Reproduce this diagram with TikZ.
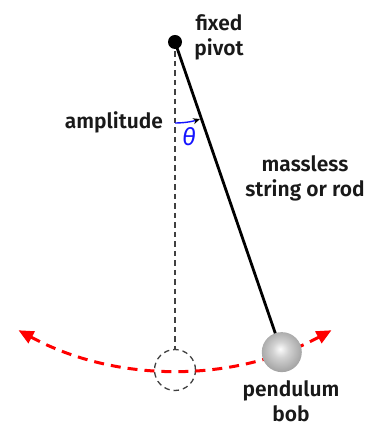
\documentclass[tikz,border=0pt]{standalone}
\usepackage{fontspec}
\setmainfont{Fira Sans SemiBold}
\newfontfamily\greekit{Fira Sans Italic}
\usetikzlibrary{arrows.meta,calc}
\pgfdeclareradialshading{bobshade}{\pgfpoint{-2bp}{4bp}}{color(0bp)=(white!97!gray); color(10bp)=(gray!35); color(30bp)=(gray!80); color(50bp)=(gray!45!black)}
\definecolor{arcred}{RGB}{255,0,0}
\definecolor{ampblue}{RGB}{20,20,255}
\tikzset{
  lbl/.style={font=\fontsize{21}{25.5}\selectfont, align=center, text=black!90, inner sep=0pt},
  guide/.style={draw=black!75, line width=1.3pt, dash pattern=on 5.5pt off 4pt},
  rod/.style={line width=2.8pt, black},
  swing/.style={draw=arcred, line width=3pt, dash pattern=on 10pt off 7pt,
    {Triangle[length=15pt,width=13pt]}-{Triangle[length=15pt,width=13pt]}},
  amp/.style={draw=ampblue, line width=1.4pt, -{Stealth[length=7pt,width=6pt,black]}}
}
\begin{document}
\begin{tikzpicture}[x=1pt,y=1pt]
  \useasboundingbox (0,0) rectangle (367,428);
  \coordinate (pv) at (175,386);
  \coordinate (rest) at ($(pv)+(270:328)$);
  \coordinate (bobc) at ($(pv)+(289:328)$);
  % equilibrium circle and vertical guide
  \node[guide, circle, minimum size=41pt, inner sep=0pt] (restbob) at (rest) {};
  \draw[guide] (pv) -- (restbob.north);
  % swing arc
  \coordinate (arcstart) at ($(pv)+(241.5:328)$);
  \draw[swing] (arcstart) arc[start angle=241.5, end angle=298.5, radius=328pt];
  % amplitude arrow
  \coordinate (ampstart) at ($(pv)+(270:81)$);
  \draw[amp] (ampstart) arc[start angle=270, end angle=288, radius=81pt];
  \node[text=ampblue, font=\greekit\fontsize{24}{24}\selectfont, inner sep=0pt] (theta) at (189,291) {θ};
  % rod
  \node[circle, fill=black, minimum size=14pt, inner sep=0pt] (pivot) at (pv) {};
  \node[circle, minimum size=40pt, inner sep=0pt] (bobpos) at (bobc) {};
  \draw[rod] (pivot.center) -- (bobpos.center);
  \shade[shading=bobshade] (bobc) circle[radius=20pt];
  % labels
  \node[lbl, anchor=base] (fixed) at (219,372) {fixed\\pivot};
  \node[lbl, anchor=base] (ampl) at (114,299) {amplitude};
  \node[lbl, anchor=base] (mass) at (305,231) {massless\\string or rod};
  \node[lbl, anchor=base] (pend) at (291,6) {pendulum\\bob};
\end{tikzpicture}
\end{document}
